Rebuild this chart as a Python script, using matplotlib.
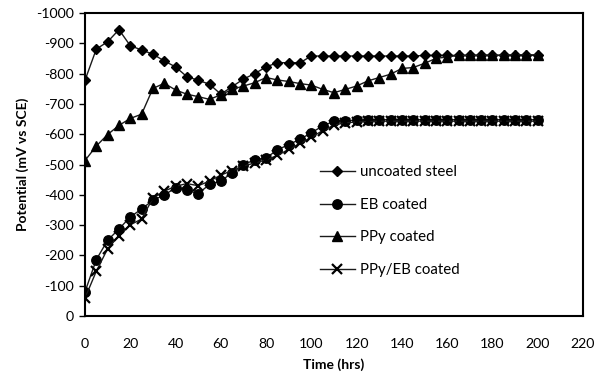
import matplotlib
matplotlib.use("Agg")
import matplotlib.pyplot as plt

plt.rcParams['font.family'] = ['Lato', 'DejaVu Sans']
plt.rcParams['axes.unicode_minus'] = False

time_hrs = list(range(0, 205, 5))

uncoated = [-778, -881, -905, -945, -892, -878, -864, -842, -822, -790,
            -778, -765, -732, -757, -782, -800, -822, -836, -836, -836,
            -858, -858, -858, -858, -858, -858, -858, -858, -858, -858,
            -860, -860, -860, -860, -860, -860, -860, -860, -860, -860, -860]
eb_coated = [-80, -186, -250, -287, -327, -353, -382, -399, -423, -415,
             -404, -434, -446, -472, -500, -515, -522, -548, -566, -583,
             -605, -627, -643, -645, -646, -648, -648, -648, -648, -648,
             -648, -648, -648, -648, -648, -648, -648, -648, -648, -648, -648]
ppy_coated = [-513, -561, -599, -629, -652, -666, -751, -768, -746, -732,
              -724, -715, -730, -748, -759, -770, -787, -779, -774, -767,
              -762, -748, -737, -748, -759, -776, -787, -798, -817, -820,
              -834, -850, -855, -860, -860, -861, -861, -861, -862, -862, -862]
ppy_eb_coated = [-59, -148, -222, -265, -301, -320, -389, -412, -428, -437,
                 -430, -445, -465, -480, -495, -505, -515, -530, -550, -570,
                 -590, -612, -630, -638, -640, -642, -643, -643, -643, -643,
                 -643, -643, -643, -643, -643, -643, -643, -643, -643, -643, -643]

labels = ['uncoated steel', 'EB coated', 'PPy coated', 'PPy/EB coated']
x_ticks = list(range(0, 240, 20))
y_ticks = list(range(0, -1100, -100))

fig = plt.figure(figsize=(5.94, 3.79), dpi=100)
ax = fig.add_axes([85/594, 1 - 316/379, (583 - 85)/594, (316 - 13)/379])

lc = '#1a1a1a'
ax.plot(time_hrs, uncoated, color=lc, lw=1, marker='D', ms=5.2, mfc='black', mec='black', label=labels[0])
ax.plot(time_hrs, eb_coated, color=lc, lw=1, marker='o', ms=6.8, mfc='black', mec='black', label=labels[1])
ax.plot(time_hrs, ppy_coated, color=lc, lw=1, marker='^', ms=6.8, mfc='black', mec='black', label=labels[2])
ax.plot(time_hrs, ppy_eb_coated, color=lc, lw=1, marker='x', ms=7, mew=1.6, mfc='black', mec='black', label=labels[3])

ax.set_xlim(0, 220)
ax.set_ylim(0, -1000)
ax.set_xticks(x_ticks)
ax.set_yticks(y_ticks)
ax.set_yticklabels([str(v) for v in y_ticks])
ax.tick_params(axis='x', length=0, pad=16, labelsize=10.2, colors='black')
ax.tick_params(axis='y', length=4, width=1, direction='out', pad=4, labelsize=10.2, colors='black')
for s in ax.spines.values():
    s.set_linewidth(1.5)
    s.set_color('black')

ax.set_xlabel('Time (hrs)', fontsize=10, fontweight='bold', labelpad=6)
ax.set_ylabel('Potential (mV vs SCE)', fontsize=10, fontweight='bold', labelpad=5)

leg = ax.legend(loc='upper left', bbox_to_anchor=(320/594, 1 - 165/379),
                bbox_transform=fig.transFigure, frameon=False, fontsize=10.8,
                handlelength=2.3, handletextpad=0.35, labelspacing=1.25,
                borderaxespad=0, borderpad=0)

fig.savefig('out.png', dpi=100)
